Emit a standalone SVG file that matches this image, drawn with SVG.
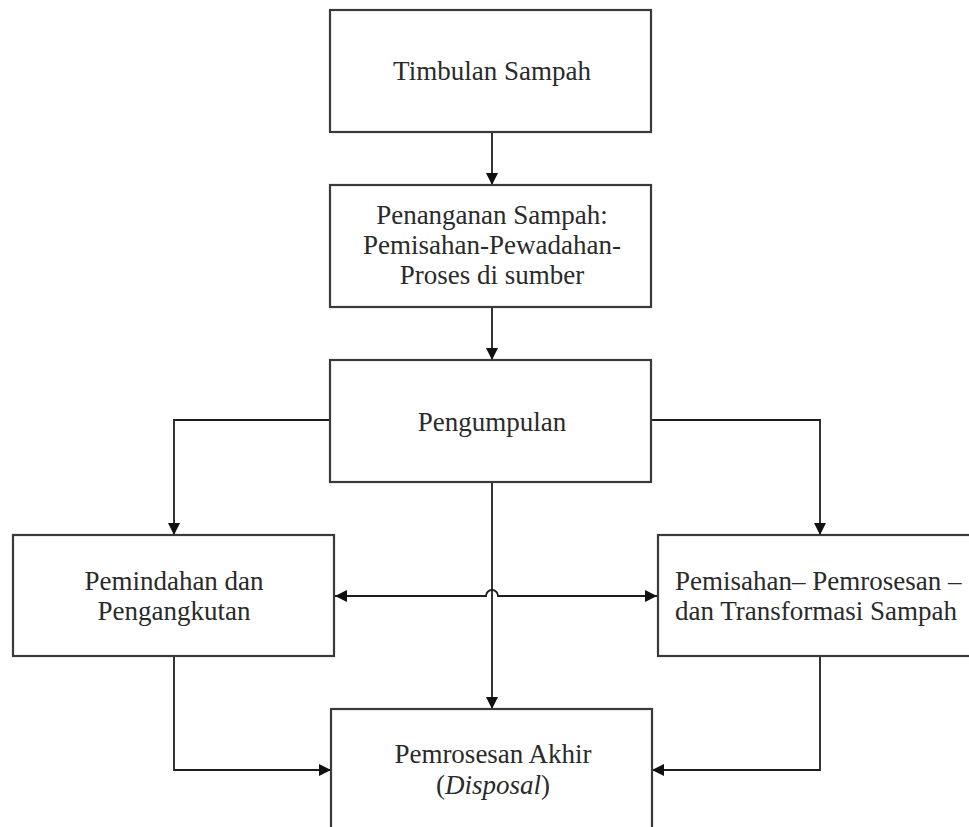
<svg xmlns="http://www.w3.org/2000/svg" width="969" height="827" viewBox="0 0 969 827">
  <defs>
    <style>
      .box { fill: #ffffff; stroke: #3a3a3a; stroke-width: 2.2; }
      .lbl { font-family: "Liberation Serif", "Times New Roman", serif; font-size: 27px; fill: #2a2a2a; text-anchor: middle; }
      .lbl-left { text-anchor: start; }
      .wire { fill: none; stroke: #1e1e1e; stroke-width: 1.8; }
    </style>
    <marker id="arrow" viewBox="0 0 12 12" refX="12" refY="6" markerWidth="12" markerHeight="12" markerUnits="userSpaceOnUse" orient="auto-start-reverse">
      <path d="M0,0 L12,6 L0,12 Z" fill="#111111"/>
    </marker>
  </defs>

  <rect width="969" height="827" fill="#ffffff"/>

  <!-- connectors -->
  <g id="connectors">
    <path class="wire" d="M492,132 V185" marker-end="url(#arrow)"/>
    <path class="wire" d="M492,307 V360" marker-end="url(#arrow)"/>
    <path class="wire" d="M330,420 H174 V535" marker-end="url(#arrow)"/>
    <path class="wire" d="M651,420 H820 V535" marker-end="url(#arrow)"/>
    <path class="wire" d="M492,482 V709" marker-end="url(#arrow)"/>
    <path class="wire" d="M335,596 H486 A6,6 0 0 1 498,596 H657" marker-start="url(#arrow)" marker-end="url(#arrow)"/>
    <path class="wire" d="M174,656 V770 H331" marker-end="url(#arrow)"/>
    <path class="wire" d="M820,656 V770 H652" marker-end="url(#arrow)"/>
  </g>

  <g id="timbulan">
    <rect class="box" x="330" y="10" width="321" height="122"/>
    <text class="lbl" x="492" y="80">Timbulan Sampah</text>
  </g>

  <g id="penanganan">
    <rect class="box" x="330" y="185" width="321" height="122"/>
    <text class="lbl" x="492" y="224">Penanganan Sampah:</text>
    <text class="lbl" x="492" y="254">Pemisahan-Pewadahan-</text>
    <text class="lbl" x="492" y="284">Proses di sumber</text>
  </g>

  <g id="pengumpulan">
    <rect class="box" x="330" y="360" width="321" height="122"/>
    <text class="lbl" x="492" y="431">Pengumpulan</text>
  </g>

  <g id="pemindahan">
    <rect class="box" x="13" y="535" width="321" height="121"/>
    <text class="lbl" x="174" y="590">Pemindahan dan</text>
    <text class="lbl" x="174" y="620">Pengangkutan</text>
  </g>

  <g id="pemisahan">
    <rect class="box" x="658" y="535" width="330" height="121"/>
    <text class="lbl lbl-left" x="675" y="590">Pemisahan– Pemrosesan –</text>
    <text class="lbl lbl-left" x="675" y="620">dan Transformasi Sampah</text>
  </g>

  <g id="pemrosesan-akhir">
    <rect class="box" x="331" y="709" width="321" height="140"/>
    <text class="lbl" x="493" y="763">Pemrosesan Akhir</text>
    <text class="lbl" x="493" y="794">(<tspan font-style="italic">Disposal</tspan>)</text>
  </g>
</svg>
